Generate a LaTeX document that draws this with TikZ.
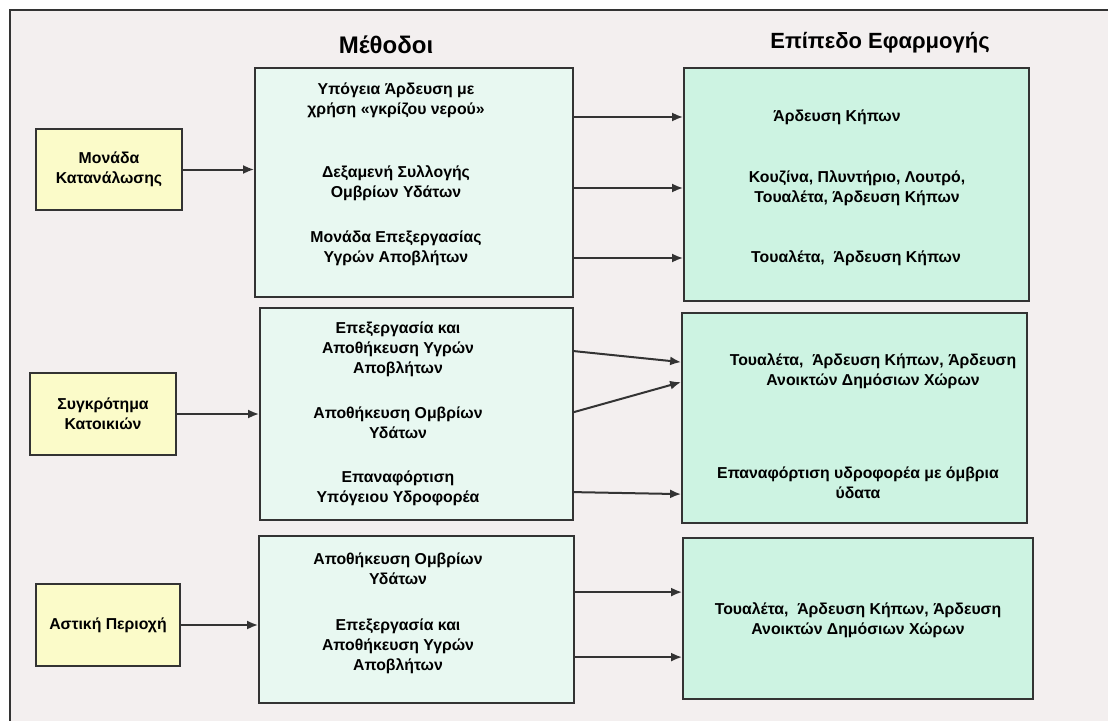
\documentclass[tikz,border=0pt]{standalone}
\usepackage{fontspec}
\setmainfont{Liberation Sans}
\usetikzlibrary{arrows.meta,calc}
\definecolor{bg}{HTML}{F3EFEF}
\definecolor{yel}{HTML}{FBFBC9}
\definecolor{mint}{HTML}{E8F8F1}
\definecolor{appc}{HTML}{CDF3E2}
\definecolor{ln}{HTML}{333333}
\begin{document}
\begin{tikzpicture}[x=1pt,y=-1pt,
  box/.style={draw=ln, line width=1.8pt, inner sep=0pt},
  ybox/.style={box, fill=yel, align=center, font=\bfseries\fontsize{15.8}{20}\selectfont},
  mbox/.style={box, fill=mint},
  abox/.style={box, fill=appc},
  txt/.style={align=center, font=\bfseries\fontsize{15.8}{20}\selectfont, inner sep=0pt},
  ttl/.style={font=\bfseries\fontsize{22}{26}\selectfont, inner sep=0pt},
  arr/.style={draw=ln, line width=2pt, -{Latex[length=11pt,width=9pt]}}]
\fill[white] (0,0) rectangle (1108,720);
\useasboundingbox (0,0) rectangle (1108,720);
\fill[bg] (10,10) rectangle (1120,730);
\draw[ln, line width=1.8pt] (10,10) rectangle (1120,730);

% titles
\node[ttl, font=\bfseries\fontsize{24}{28}\selectfont] (T1) at (386,45) {Μέθοδοι};
\node[ttl] (T2) at (880,43) {Επίπεδο Εφαρμογής};

% yellow boxes
\node[ybox, minimum width=146, minimum height=81] (Y1) at (109,169.5) {Μονάδα\\Κατανάλωσης};
\node[ybox, minimum width=146, minimum height=82] (Y2) at (103,414) {Συγκρότημα\\Κατοικιών};
\node[ybox, minimum width=144, minimum height=82] (Y3) at (108,625) {Αστική Περιοχή};

% method boxes
\node[mbox, minimum width=318, minimum height=229] (M1) at (414,182.5) {};
\node[mbox, minimum width=313, minimum height=212] (M2) at (416.5,414) {};
\node[mbox, minimum width=315, minimum height=167] (M3) at (416.5,619.5) {};

% application boxes
\node[abox, minimum width=345, minimum height=233] (A1) at (856.5,184.5) {};
\node[abox, minimum width=345, minimum height=210] (A2) at (854.5,418) {};
\node[abox, minimum width=350, minimum height=161] (A3) at (858,618.5) {};

% method texts
\node[txt] (m11) at (396,100) {Υπόγεια Άρδευση με\\χρήση «γκρίζου νερού»};
\node[txt] (m12) at (396,183) {Δεξαμενή Συλλογής\\Ομβρίων Υδάτων};
\node[txt] (m13) at (396,248) {Μονάδα Επεξεργασίας\\Υγρών Αποβλήτων};
\node[txt] (m21) at (398,349) {Επεξεργασία και\\Αποθήκευση Υγρών\\Αποβλήτων};
\node[txt] (m22) at (398,423) {Αποθήκευση Ομβρίων\\Υδάτων};
\node[txt] (m23) at (398,488) {Επαναφόρτιση\\Υπόγειου Υδροφορέα};
\node[txt] (m31) at (398,569) {Αποθήκευση Ομβρίων\\Υδάτων};
\node[txt] (m32) at (398,646) {Επεξεργασία και\\Αποθήκευση Υγρών\\Αποβλήτων};

% application texts
\node[txt] (a11) at (837,117) {Άρδευση Κήπων};
\node[txt] (a12) at (857,188) {Κουζίνα, Πλυντήριο, Λουτρό,\\Τουαλέτα, Άρδευση Κήπων};
\node[txt] (a13) at (856,258) {Τουαλέτα,~ Άρδευση Κήπων};
\node[txt] (a21) at (873,371) {Τουαλέτα,~ Άρδευση Κήπων, Άρδευση\\Ανοικτών Δημόσιων Χώρων};
\node[txt] (a22) at (858,483) {Επαναφόρτιση υδροφορέα με όμβρια\\ύδατα};
\node[txt] (a31) at (858,620) {Τουαλέτα,~ Άρδευση Κήπων, Άρδευση\\Ανοικτών Δημόσιων Χώρων};

% connector end points
\coordinate (s21) at ($(M2.north east)+(0,44)$);
\coordinate (e21) at ($(A2.north west)+(0,50)$);
\coordinate (s22) at ($(M2.north east)+(0,105)$);
\coordinate (e22) at ($(A2.north west)+(0,70)$);
\coordinate (s23) at ($(M2.north east)+(0,185)$);
\coordinate (e23) at ($(A2.north west)+(0,182)$);
\coordinate (s31) at ($(M3.north east)+(0,57)$);
\coordinate (s32) at ($(M3.north east)+(0,122)$);

% arrows
\draw[arr] (Y1.east) -- (M1.west |- Y1.east);
\draw[arr] (Y2.east) -- (M2.west |- Y2.east);
\draw[arr] (Y3.east) -- (M3.west |- Y3.east);
\draw[arr] (M1.east |- a11) -- (A1.west |- a11);
\draw[arr] (M1.east |- a12) -- (A1.west |- a12);
\draw[arr] (M1.east |- a13) -- (A1.west |- a13);
\draw[arr] (s21) -- (e21);
\draw[arr] (s22) -- (e22);
\draw[arr] (s23) -- (e23);
\draw[arr] (s31) -- (A3.west |- s31);
\draw[arr] (s32) -- (A3.west |- s32);
\end{tikzpicture}
\end{document}
